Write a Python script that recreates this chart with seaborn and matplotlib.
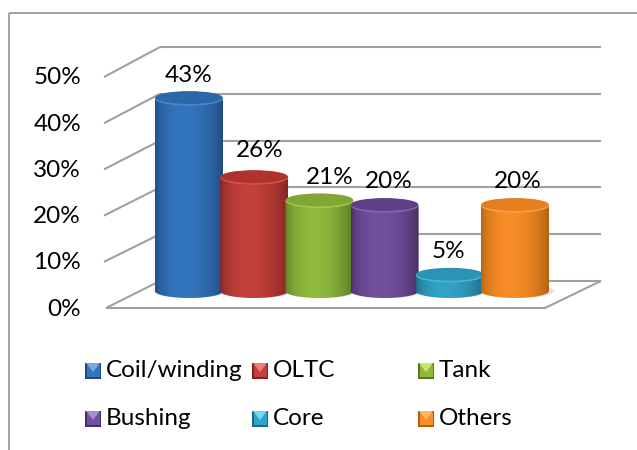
import numpy as np
import pandas as pd
import matplotlib
matplotlib.use("Agg")
import matplotlib.pyplot as plt
import seaborn as sns
from matplotlib.colors import to_rgb
from matplotlib.patches import Ellipse, PathPatch, Polygon, Rectangle
from matplotlib.path import Path
from matplotlib.transforms import Affine2D

categories = ["Coil/winding", "OLTC", "Tank", "Bushing", "Core", "Others"]
values = [43, 26, 21, 20, 5, 20]
tick_labels = ["0%", "10%", "20%", "30%", "40%", "50%"]

edge_colors = ["#1f4a7e", "#7e2522", "#5a7526", "#452d63", "#1d6a82", "#b0610f"]
mid_colors = ["#3375be", "#c4403a", "#90ba3c", "#73509d", "#32a3c6", "#f98d28"]
top_colors = ["#2b68aa", "#b0322d", "#80a636", "#5f3f88", "#2b93b3", "#e67d1f"]
rim_colors = ["#4a86c8", "#cc5550", "#a3c850", "#8565ac", "#4db5d3", "#fa9f45"]
light_colors = ["#78a8e0", "#ee7d78", "#c8e868", "#ad8ad4", "#68dcf0", "#fdb868"]

# nudges of the data labels from their bar centres, as in the original
label_dx = [0, 5, 10, 4, -1, 3]
label_dy = [16, 20, 16, 16, 16, 16]

sns.set_theme(style="white")
plt.rcParams["font.family"] = ["Lato", "DejaVu Sans"]

W, H = 637, 450
ZERO_PX = 298      # where value 0 sits
PX_PER_PCT = 4.65
X0_PX = 189        # centre of first bar
STEP_PX = 65.2
ELL_H = 14 / PX_PER_PCT
GRID = "#a0a0a0"
FS = 17.5

fig = plt.figure(figsize=(W / 100, H / 100), dpi=100, facecolor="white")
ax = fig.add_axes([0, 0, 1, 1])

df = pd.DataFrame({"category": categories, "value": values})
sns.barplot(data=df, x="category", y="value", hue="category", palette=mid_colors,
            width=68 / STEP_PX, legend=False, ax=ax, saturation=1)

ax.set_xlim(-X0_PX / STEP_PX, (W - X0_PX) / STEP_PX)
ax.set_ylim((ZERO_PX - H) / PX_PER_PCT, ZERO_PX / PX_PER_PCT)
ax.axis("off")

# pixel coordinates (y down) for the frame, walls and legend
px = Affine2D().scale(1, -1).translate(0, H)


def px_line(xs, ys, lw=1.5, color=GRID):
    ax.plot(xs, ys, color=color, lw=lw, transform=px, zorder=1, solid_capstyle="butt", clip_on=False)


# outer frame
px_line([9, 9], [450, 12.5], lw=1.4)
px_line([9, 637], [12.5, 12.5], lw=1.4)

# back wall grid, side wall and floor
for i, label in enumerate(tick_labels):
    back_y = 281 - 46.8 * i
    front_y = 308 - 46.2 * i
    px_line([160, 601], [back_y, back_y])
    if i > 0:
        px_line([104, 160], [front_y, back_y])
    ax.text(81, front_y + 1, label, transform=px, ha="right", va="center", fontsize=FS, color="black")
px_line([106, 160], [308, 281])
px_line([106, 545, 601], [308, 308, 281])

# turn seaborn's flat bars into shaded cylinders
bars = sorted(ax.patches, key=lambda p: p.get_x())
u = np.linspace(0, 1, 128)
shade = np.sin(np.pi * u ** 0.8) ** 0.7
for i, bar in enumerate(bars):
    left, width, height = bar.get_x(), bar.get_width(), bar.get_height()
    cx = left + width / 2
    foot = ELL_H / 2
    bar.set_visible(False)
    z = 3 + i

    # soft shadow at the foot
    for grow, alpha in [(1.12, 0.08), (1.06, 0.14)]:
        ax.add_patch(Ellipse((cx + 0.03, foot), width * grow, ELL_H, color="#707070",
                             alpha=alpha, lw=0, zorder=2))

    edge, mid = np.array(to_rgb(edge_colors[i])), np.array(to_rgb(mid_colors[i]))
    rgb = edge + (mid - edge) * shade[:, None]
    img = ax.imshow(rgb[None, :, :], aspect="auto", extent=[left, left + width, 0, height], zorder=z)

    # body outline: bottom half ellipse up to the top half ellipse
    t = np.linspace(np.pi, 2 * np.pi, 40)
    xs = cx + width / 2 * np.cos(t)
    ys = ELL_H / 2 * np.sin(t)
    verts = list(zip(xs, foot + ys)) + list(zip(xs[::-1], height + ys[::-1]))
    body = PathPatch(Path(verts + [verts[0]], closed=True), transform=ax.transData, fc="none", ec="none")
    ax.add_patch(body)
    img.set_clip_path(body)

    # top cap
    ax.add_patch(Ellipse((cx, height - 0.12), width, ELL_H, fc=rim_colors[i], ec="none", zorder=z + 0.1))
    ax.add_patch(Ellipse((cx, height + 0.1), width * 0.99, ELL_H * 0.92, fc=top_colors[i], ec="none", zorder=z + 0.2))

    ax.annotate(f"{values[i]}%", (cx, height), xytext=(label_dx[i], ELL_H / 2 * PX_PER_PCT + label_dy[i]),
                textcoords="offset pixels", ha="center", va="center",
                fontsize=FS, color="black", zorder=20)

# legend, bevelled swatches
legend_x = [85, 252, 418, 85, 252, 418]
legend_y = [371, 371, 371, 419, 419, 419]
for i, name in enumerate(categories):
    x, y = legend_x[i], legend_y[i]
    s = 16
    ax.add_patch(Rectangle((x, y - s / 2), s, s, transform=px, fc=edge_colors[i], ec="none", zorder=5))
    ax.add_patch(Rectangle((x + 1.5, y - s / 2 + 1.5), s - 3, s - 4, transform=px, fc=mid_colors[i], ec="none", zorder=6))
    ax.add_patch(Polygon([(x + 1, y - s / 2), (x + s - 1, y - s / 2), (x + s / 2, y + 1)],
                         transform=px, fc=light_colors[i], ec="none", zorder=7))
    ax.text(x + 21, y - 0.5, name, transform=px, ha="left", va="center", fontsize=FS, color="black")

fig.savefig("out.png", dpi=100)
